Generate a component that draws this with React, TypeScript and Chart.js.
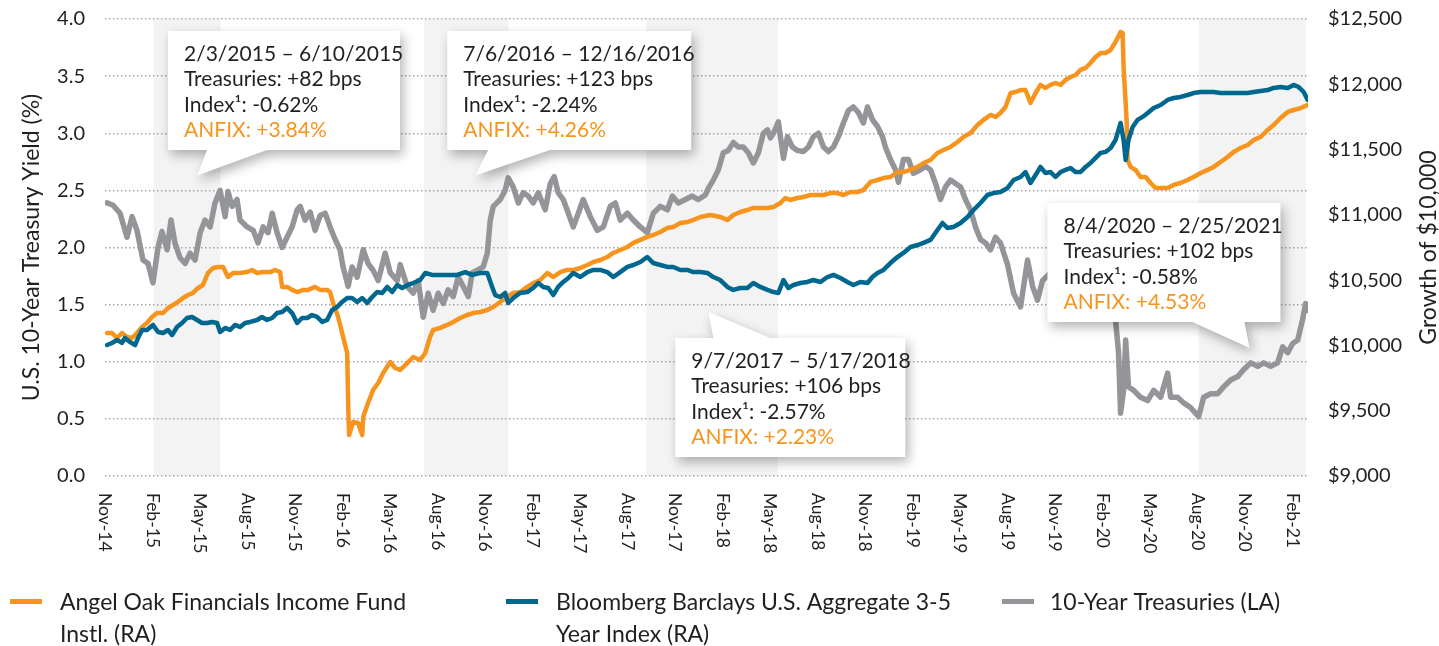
import React, { useEffect, useRef } from 'react';
import { Chart, registerables } from 'chart.js';

Chart.register(...registerables);

// ---------- DATA ----------
// x values are months since 1 Nov 2014
const xTickLabels = [
  'Nov-14', 'Feb-15', 'May-15', 'Aug-15', 'Nov-15', 'Feb-16', 'May-16', 'Aug-16', 'Nov-16',
  'Feb-17', 'May-17', 'Aug-17', 'Nov-17', 'Feb-18', 'May-18', 'Aug-18', 'Nov-18',
  'Feb-19', 'May-19', 'Aug-19', 'Nov-19', 'Feb-20', 'May-20', 'Aug-20', 'Nov-20', 'Feb-21',
];

const treasuryMonths = [
  0.13, 0.51, 0.95, 1.39, 1.71, 2.02, 2.4, 2.72, 3.03, 3.35, 3.6, 3.92, 4.17, 4.42, 4.74, 5.06, 5.37, 5.69,
  6.01, 6.32, 6.64, 6.95, 7.27, 7.59, 7.77, 8.03, 8.34, 8.53, 8.98, 9.36, 9.67, 9.99, 10.3, 10.56, 10.87,
  11.19, 11.5, 11.82, 12.14, 12.33, 12.64, 12.96, 13.27, 13.59, 13.91, 14.22, 14.54, 14.85, 15.04, 15.36,
  15.61, 15.93, 16.31, 16.62, 16.94, 17.26, 17.7, 18.02, 18.46, 18.65, 19.09, 19.47, 19.79, 20.1, 20.42,
  20.73, 21.05, 21.37, 21.68, 22.0, 22.31, 22.63, 22.95, 23.2, 23.51, 23.89, 24.15, 24.34, 24.53, 24.97,
  25.28, 25.47, 25.79, 26.11, 26.42, 26.74, 27.05, 27.37, 27.81, 28.13, 28.38, 28.63, 28.95, 29.27, 29.58,
  29.9, 30.21, 30.66, 31.1, 31.48, 31.92, 32.24, 32.55, 33.0, 33.38, 33.82, 34.26, 34.64, 35.08, 35.53,
  35.84, 36.22, 36.66, 37.1, 37.48, 37.93, 38.12, 38.43, 38.75, 39.06, 39.38, 39.7, 40.01, 40.33, 40.64,
  40.96, 41.28, 41.59, 41.85, 42.04, 42.23, 42.54, 42.86, 43.11, 43.43, 43.74, 44.12, 44.44, 44.75, 45.07,
  45.39, 45.7, 46.02, 46.33, 46.65, 46.97, 47.28, 47.6, 47.91, 48.17, 48.48, 48.8, 49.12, 49.3, 49.62,
  49.94, 50.13, 50.44, 50.76, 51.07, 51.52, 51.83, 52.15, 52.47, 52.78, 53.1, 53.41, 53.73, 54.05, 54.36,
  54.68, 54.99, 55.31, 55.63, 55.94, 56.26, 56.57, 57.02, 57.4, 57.84, 58.28, 58.6, 58.91, 59.23, 59.73,
  60.37, 61.0, 61.63, 62.26, 62.9, 63.4, 63.84, 64.03, 64.16, 64.35, 64.48, 64.66, 64.98, 65.42, 65.87,
  66.25, 66.69, 67.13, 67.32, 67.76, 68.14, 68.58, 69.09, 69.41, 69.85, 70.29, 70.67, 71.11, 71.56, 71.93,
  72.38, 72.82, 73.2, 73.64, 74.08, 74.4, 74.72, 75.03, 75.35, 75.66, 75.85, 75.98,
];
const treasuryYield = [
  2.39, 2.37, 2.3, 2.09, 2.27, 2.15, 1.89, 1.86, 1.69, 2.0, 2.14, 1.98, 2.24, 2.04, 1.91, 1.86, 1.95, 1.89,
  2.13, 2.24, 2.18, 2.39, 2.5, 2.27, 2.49, 2.36, 2.42, 2.24, 2.18, 2.15, 2.04, 2.18, 2.13, 2.3, 2.13,
  2.0, 2.09, 2.18, 2.33, 2.36, 2.24, 2.31, 2.15, 2.28, 2.3, 2.18, 2.07, 1.98, 1.83, 1.66,
  1.83, 1.74, 1.98, 1.86, 1.8, 1.71, 1.95, 1.78, 1.71, 1.85, 1.66, 1.6, 1.71, 1.39, 1.6,
  1.45, 1.6, 1.51, 1.63, 1.57, 1.74, 1.66, 1.57, 1.78, 1.8, 1.83, 1.95, 2.24, 2.36, 2.42,
  2.5, 2.61, 2.53, 2.39, 2.48, 2.45, 2.39, 2.48, 2.33, 2.56, 2.62, 2.48, 2.42, 2.3, 2.18,
  2.3, 2.42, 2.27, 2.15, 2.18, 2.36, 2.39, 2.24, 2.3, 2.24, 2.18, 2.13, 2.3, 2.36, 2.33,
  2.45, 2.39, 2.42, 2.45, 2.42, 2.46, 2.52, 2.59, 2.68, 2.83, 2.85, 2.92, 2.88, 2.88, 2.83,
  2.74, 2.83, 3.0, 3.03, 2.96, 3.0, 3.1, 2.78, 2.97, 2.88, 2.85, 2.84, 2.88, 2.97, 3.0,
  2.88, 2.84, 2.88, 2.97, 3.09, 3.2, 3.23, 3.18, 3.09, 3.23, 3.12, 3.06, 2.97, 2.88, 2.77,
  2.68, 2.57, 2.77, 2.77, 2.65, 2.68, 2.71, 2.68, 2.56, 2.42, 2.53, 2.59, 2.56, 2.53, 2.42,
  2.33, 2.18, 2.07, 2.04, 1.98, 2.09, 2.04, 1.85, 1.6, 1.48, 1.89, 1.66, 1.54, 1.71, 1.78,
  1.85, 1.75, 1.85, 1.92, 1.8, 1.6, 1.37, 1.08, 0.55, 0.75, 1.19, 0.78, 0.75, 0.69, 0.66,
  0.75, 0.69, 0.9, 0.69, 0.69, 0.64, 0.6, 0.52, 0.69, 0.72, 0.72, 0.78, 0.84, 0.87, 0.93,
  0.99, 0.96, 0.99, 0.96, 0.99, 1.13, 1.08, 1.16, 1.19, 1.37, 1.51, 1.45,
];

const fundMonths = [
  0.13, 0.44, 0.76, 1.07, 1.39, 1.71, 2.02, 2.34, 2.65, 2.97, 3.29, 3.67, 3.98, 4.3, 4.61, 4.93, 5.25, 5.56,
  5.88, 6.19, 6.51, 6.83, 7.14, 7.46, 7.77, 8.09, 8.53, 8.98, 9.29, 9.61, 9.99, 10.43, 10.75, 11.06, 11.19,
  11.5, 11.82, 12.14, 12.52, 12.83, 13.27, 13.59, 14.03, 14.22, 14.41, 14.73, 14.98, 15.3, 15.36, 15.42,
  15.68, 15.99, 16.25, 16.31, 16.62, 16.94, 17.26, 17.57, 18.02, 18.33, 18.65, 19.09, 19.47, 19.91, 20.23,
  20.54, 20.73, 21.18, 21.62, 22.0, 22.44, 22.88, 23.26, 23.7, 24.15, 24.53, 24.97, 25.41, 25.79, 26.23,
  26.68, 27.05, 27.5, 27.94, 28.32, 28.76, 29.2, 29.58, 30.03, 30.47, 30.85, 31.29, 31.73, 32.11, 32.55,
  33.0, 33.38, 33.82, 34.26, 34.64, 35.08, 35.53, 35.9, 36.35, 36.79, 37.17, 37.61, 38.24, 38.87, 39.32,
  39.7, 40.14, 40.58, 40.96, 41.4, 41.85, 42.23, 42.67, 42.98, 43.3, 43.74, 44.12, 44.56, 45.01, 45.39,
  45.83, 46.27, 46.65, 47.09, 47.53, 47.91, 48.36, 48.8, 49.18, 49.62, 50.06, 50.44, 50.89, 51.33, 51.71,
  52.15, 52.59, 52.97, 53.41, 53.86, 54.24, 54.68, 55.12, 55.5, 55.94, 56.26, 56.57, 56.89, 57.21, 57.52,
  57.84, 58.15, 58.47, 58.79, 59.1, 59.42, 59.73, 60.05, 60.37, 60.68, 61.0, 61.31, 61.63, 61.95, 62.26,
  62.58, 62.9, 63.21, 63.53, 63.84, 64.16, 64.29, 64.35, 64.54, 64.6, 64.79, 65.11, 65.42, 65.74, 66.06,
  66.37, 66.69, 67.13, 67.51, 67.95, 68.39, 68.77, 69.22, 69.66, 70.04, 70.48, 70.92, 71.3, 71.74, 72.19,
  72.57, 73.01, 73.45, 73.83, 74.27, 74.72, 75.09, 75.54, 75.98,
];
const fundGrowth = [
  10095, 10095, 10057, 10095, 10065, 10057, 10095, 10141, 10172, 10218, 10248, 10248, 10287, 10310, 10333, 10363, 10386, 10402,
  10440, 10463, 10555, 10593, 10601, 10601, 10524, 10555, 10555, 10562, 10578, 10555, 10562, 10562, 10578, 10562, 10448,
  10448, 10425, 10409, 10425, 10425, 10448, 10425, 10425, 10409, 10325, 10218, 10095, 9942, 9559, 9314,
  9414, 9406, 9314, 9452, 9559, 9659, 9712, 9789, 9873, 9827, 9812, 9865, 9911, 9888, 9942,
  10065, 10118, 10134, 10157, 10180, 10210, 10233, 10248, 10256, 10271, 10294, 10333, 10371, 10402, 10409,
  10448, 10478, 10501, 10555, 10524, 10562, 10578, 10578, 10593, 10616, 10639, 10654, 10677, 10708, 10731,
  10754, 10785, 10808, 10831, 10846, 10869, 10899, 10907, 10938, 10945, 10961, 10984, 10999, 10984, 10961,
  10999, 11022, 11037, 11053, 11053, 11053, 11060, 11091, 11129, 11114, 11129, 11137, 11152, 11152, 11152,
  11167, 11167, 11152, 11175, 11175, 11190, 11252, 11267, 11282, 11290, 11328, 11328, 11344, 11367, 11397,
  11420, 11474, 11497, 11520, 11558, 11597, 11627, 11688, 11727, 11765, 11750, 11780, 11826, 11933, 11941,
  11956, 11956, 11857, 11933, 11995, 11972, 11995, 12010, 11995, 12033, 12056, 12071, 12110, 12125, 12163,
  12209, 12240, 12240, 12263, 12324, 12400, 12393, 12133, 11727, 11420, 11367, 11344, 11290, 11290, 11244,
  11206, 11206, 11206, 11229, 11244, 11267, 11290, 11321, 11344, 11367, 11405, 11443, 11482, 11512, 11535,
  11573, 11597, 11650, 11688, 11742, 11788, 11803, 11818, 11841,
];

const indexMonths = [
  0.13, 0.44, 0.76, 1.07, 1.26, 1.58, 1.9, 2.09, 2.34, 2.65, 3.03, 3.35, 3.67, 3.98, 4.24, 4.55, 4.87, 5.18,
  5.5, 5.82, 6.13, 6.45, 6.76, 7.08, 7.27, 7.59, 7.9, 8.22, 8.53, 8.85, 9.17, 9.61, 9.92, 10.24, 10.56,
  10.87, 11.19, 11.5, 11.82, 12.14, 12.45, 12.77, 13.08, 13.4, 13.72, 14.03, 14.35, 14.66, 14.98, 15.3,
  15.61, 15.93, 16.25, 16.56, 16.88, 17.19, 17.51, 17.83, 18.14, 18.46, 18.77, 19.15, 19.47, 19.91, 20.23,
  20.67, 21.18, 21.68, 22.25, 22.76, 23.2, 23.7, 24.15, 24.46, 24.65, 24.97, 25.28, 25.47, 25.79, 26.23,
  26.68, 27.05, 27.37, 27.69, 28.0, 28.32, 28.63, 28.95, 29.27, 29.58, 30.03, 30.47, 30.85, 31.29, 31.73,
  32.11, 32.55, 33.0, 33.38, 33.82, 34.26, 34.64, 35.08, 35.53, 35.9, 36.35, 36.79, 37.17, 37.61, 38.05,
  38.43, 38.87, 39.32, 39.7, 40.14, 40.58, 40.96, 41.4, 41.85, 42.23, 42.54, 42.86, 43.17, 43.49, 43.93,
  44.37, 44.75, 45.2, 45.64, 46.02, 46.46, 46.9, 47.28, 47.72, 48.17, 48.48, 48.8, 49.18, 49.62, 50.06,
  50.44, 50.89, 51.33, 51.71, 52.15, 52.59, 52.91, 53.22, 53.6, 54.05, 54.49, 54.87, 55.31, 55.75, 56.13,
  56.57, 57.02, 57.4, 57.84, 58.15, 58.47, 58.79, 59.1, 59.42, 59.73, 60.05, 60.37, 60.68, 61.0, 61.31,
  61.63, 61.95, 62.26, 62.58, 62.9, 63.21, 63.53, 63.84, 64.16, 64.35, 64.48, 64.66, 64.92, 65.23, 65.55,
  65.87, 66.25, 66.69, 67.13, 67.51, 67.95, 68.39, 68.77, 69.22, 69.66, 70.04, 70.48, 70.92, 71.3, 71.74,
  72.19, 72.57, 73.01, 73.45, 73.83, 74.27, 74.72, 75.09, 75.41, 75.73, 75.98,
];
const indexGrowth = [
  10003, 10019, 10042, 10019, 10057, 10026, 10003, 10057, 10118, 10118, 10157, 10103, 10095, 10118, 10080, 10141, 10172, 10210,
  10218, 10195, 10172, 10172, 10180, 10172, 10103, 10134, 10118, 10157, 10141, 10172, 10180, 10195, 10218, 10195, 10210,
  10248, 10256, 10287, 10248, 10172, 10210, 10210, 10233, 10218, 10180, 10195, 10271, 10294, 10333, 10363,
  10363, 10333, 10363, 10325, 10371, 10409, 10402, 10448, 10409, 10463, 10440, 10465, 10478, 10501, 10555,
  10540, 10540, 10540, 10540, 10562, 10540, 10555, 10555, 10448, 10386, 10371, 10402, 10325, 10363, 10402,
  10409, 10440, 10478, 10448, 10440, 10386, 10448, 10486, 10516, 10555, 10524, 10562, 10578, 10578, 10562,
  10524, 10562, 10601, 10616, 10639, 10677, 10631, 10616, 10601, 10601, 10578, 10578, 10562, 10562, 10555,
  10524, 10501, 10448, 10425, 10440, 10440, 10478, 10448, 10425, 10409, 10402, 10501, 10440, 10463, 10478,
  10486, 10501, 10486, 10524, 10540, 10516, 10486, 10463, 10486, 10478, 10524, 10555, 10578, 10631, 10677,
  10708, 10754, 10769, 10785, 10808, 10884, 10938, 10899, 10907, 10938, 10984, 11037, 11091, 11152, 11167,
  11175, 11206, 11267, 11290, 11328, 11244, 11305, 11367, 11321, 11328, 11290, 11328, 11344, 11359, 11328,
  11328, 11367, 11397, 11436, 11474, 11482, 11512, 11573, 11704, 11573, 11420, 11573, 11673, 11727, 11750,
  11780, 11818, 11841, 11880, 11895, 11903, 11918, 11933, 11941, 11941, 11941, 11933, 11933, 11933, 11933,
  11933, 11941, 11949, 11956, 11972, 11979, 11972, 11995, 11979, 11941, 11880,
];

// rising-rate periods and their callout figures
const periodStarts = ['2/3/2015', '7/6/2016', '9/7/2017', '8/4/2020'];
const periodEnds = ['6/10/2015', '12/16/2016', '5/17/2018', '2/25/2021'];
const periodTreasuries = ['+82 bps', '+123 bps', '+106 bps', '+102 bps'];
const periodIndex = ['-0.62%', '-2.24%', '-2.57%', '-0.58%'];
const periodAnfix = ['+3.84%', '+4.26%', '+2.23%', '+4.53%'];

const seriesLabels = [
  ['Angel Oak Financials Income Fund', 'Instl. (RA)'],
  ['Bloomberg Barclays U.S. Aggregate 3-5', 'Year Index (RA)'],
  ['10-Year Treasuries (LA)'],
];

// ---------- STYLE / LAYOUT ----------
const FONT = 'Lato, "Open Sans", "DejaVu Sans", sans-serif';
const TEXT = '#231f20';
const ORANGE = '#f7941d';
const BLUE = '#00678f';
const GRAY = '#939598';
const BAND = '#f3f3f3';

// callout boxes positioned in scale units (x: months, y: left axis)
const calloutLayout = [
  { left: 3.98, top: 3.895, w: 232, h: 119, side: 'bottom', baseFrom: 39, baseTo: 99, tipX: 5.82, tipY: 2.63 },
  { left: 21.62, top: 3.895, w: 244, h: 119, side: 'bottom', baseFrom: 41, baseTo: 103, tipX: 23.39, tipY: 2.63 },
  { left: 36.03, top: 1.208, w: 230, h: 119, side: 'top', baseFrom: 38, baseTo: 95, tipX: 38.12, tipY: 1.435 },
  { left: 59.54, top: 2.39, w: 233, h: 119, side: 'bottom', baseFrom: 145, baseTo: 197, tipX: 72.31, tipY: 1.12 },
];

const legendSwatchX = [10, 506, 1002];
const legendTextX = [60, 556, 1050];
const legendColors = [ORANGE, BLUE, GRAY];

function monthsFromDate(s: string): number {
  const [m, d, y] = s.split('/').map(Number);
  const dim = new Date(y, m, 0).getDate();
  return (y - 2014) * 12 + (m - 11) + (d - 1) / dim;
}

const overlayPlugin = {
  id: 'overlay',
  beforeDraw(chart: any) {
    const { ctx, chartArea } = chart;
    const xs = chart.scales.x;
    ctx.save();
    ctx.fillStyle = BAND;
    periodStarts.forEach((s, i) => {
      const x0 = xs.getPixelForValue(monthsFromDate(s));
      const x1 = xs.getPixelForValue(monthsFromDate(periodEnds[i]));
      ctx.fillRect(x0, chartArea.top, x1 - x0, chartArea.bottom - chartArea.top);
    });
    ctx.restore();
  },
  afterDraw(chart: any) {
    const { ctx, chartArea } = chart;
    const xs = chart.scales.x;
    const ys = chart.scales.y;

    // callouts
    calloutLayout.forEach((L, i) => {
      const x0 = xs.getPixelForValue(L.left);
      const y0 = ys.getPixelForValue(L.top);
      const tx = xs.getPixelForValue(L.tipX);
      const ty = ys.getPixelForValue(L.tipY);
      const { w, h } = L;
      ctx.save();
      ctx.beginPath();
      if (L.side === 'bottom') {
        ctx.moveTo(x0, y0);
        ctx.lineTo(x0 + w, y0);
        ctx.lineTo(x0 + w, y0 + h);
        ctx.lineTo(x0 + L.baseTo, y0 + h);
        ctx.lineTo(tx, ty);
        ctx.lineTo(x0 + L.baseFrom, y0 + h);
        ctx.lineTo(x0, y0 + h);
      } else {
        ctx.moveTo(x0, y0);
        ctx.lineTo(x0 + L.baseFrom, y0);
        ctx.lineTo(tx, ty);
        ctx.lineTo(x0 + L.baseTo, y0);
        ctx.lineTo(x0 + w, y0);
        ctx.lineTo(x0 + w, y0 + h);
        ctx.lineTo(x0, y0 + h);
      }
      ctx.closePath();
      ctx.shadowColor = 'rgba(0,0,0,0.30)';
      ctx.shadowBlur = 12;
      ctx.shadowOffsetX = 3;
      ctx.shadowOffsetY = 5;
      ctx.fillStyle = '#ffffff';
      ctx.fill();
      ctx.restore();

      const lines = [
        `${periodStarts[i]} \u2013 ${periodEnds[i]}`,
        `Treasuries: ${periodTreasuries[i]}`,
        `Index\u00b9: ${periodIndex[i]}`,
        `ANFIX: ${periodAnfix[i]}`,
      ];
      ctx.save();
      ctx.font = `21px ${FONT}`;
      ctx.textAlign = 'left';
      ctx.textBaseline = 'alphabetic';
      lines.forEach((t, k) => {
        ctx.fillStyle = k === 3 ? ORANGE : TEXT;
        ctx.fillText(t, x0 + 16, y0 + 30 + k * 25.3);
      });
      ctx.restore();
    });

    // x tick labels (rotated, reading downward)
    ctx.save();
    ctx.font = `17.5px ${FONT}`;
    ctx.fillStyle = TEXT;
    ctx.textAlign = 'left';
    ctx.textBaseline = 'middle';
    xTickLabels.forEach((lab, i) => {
      const x = xs.getPixelForValue(i * 3);
      ctx.save();
      ctx.translate(x, chartArea.bottom + 17);
      ctx.rotate(Math.PI / 2);
      ctx.fillText(lab, 0, 0);
      ctx.restore();
    });
    ctx.restore();

    // axis titles
    const midY = (chartArea.top + chartArea.bottom) / 2;
    ctx.save();
    ctx.font = `23px ${FONT}`;
    ctx.fillStyle = TEXT;
    ctx.textAlign = 'center';
    ctx.textBaseline = 'middle';
    ctx.translate(32, midY);
    ctx.rotate(-Math.PI / 2);
    ctx.fillText('U.S. 10-Year Treasury Yield (%)', 0, 0);
    ctx.restore();
    ctx.save();
    ctx.font = `23px ${FONT}`;
    ctx.fillStyle = TEXT;
    ctx.textAlign = 'center';
    ctx.textBaseline = 'middle';
    ctx.translate(1429, midY);
    ctx.rotate(-Math.PI / 2);
    ctx.fillText('Growth of $10,000', 0, 0);
    ctx.restore();

    // legend
    ctx.save();
    ctx.font = `23px ${FONT}`;
    ctx.textAlign = 'left';
    ctx.textBaseline = 'alphabetic';
    seriesLabels.forEach((lines, i) => {
      ctx.fillStyle = legendColors[i];
      ctx.fillRect(legendSwatchX[i], 599, 32, 5);
      ctx.fillStyle = TEXT;
      lines.forEach((t, k) => ctx.fillText(t, legendTextX[i], 610 + k * 32));
    });
    ctx.restore();
  },
};

function toPoints(xsArr: number[], ysArr: number[]) {
  return xsArr.map((x, i) => ({ x, y: ysArr[i] }));
}

// fix vertical axis box: set width and the top reserve above the plot
const fitVertical = (width: number) => (s: any) => {
  s.width = width;
  s.paddingTop = 19;
  s.paddingBottom = 0;
};

export default function App() {
  const canvasRef = useRef<HTMLCanvasElement>(null);

  useEffect(() => {
    document.body.style.margin = '0';
    const canvas = canvasRef.current;
    if (!canvas) return;
    const tickFont = { family: FONT, size: 20 };
    const chart = new Chart(canvas, {
      type: 'line',
      data: {
        datasets: [
          {
            label: seriesLabels[2].join(' '),
            data: toPoints(treasuryMonths, treasuryYield),
            yAxisID: 'y',
            borderColor: GRAY,
            borderWidth: 5.5,
            pointRadius: 0,
            borderJoinStyle: 'round',
            borderCapStyle: 'round',
            tension: 0,
            order: 3,
          },
          {
            label: seriesLabels[0].join(' '),
            data: toPoints(fundMonths, fundGrowth),
            yAxisID: 'y2',
            borderColor: ORANGE,
            borderWidth: 4.5,
            pointRadius: 0,
            borderJoinStyle: 'round',
            borderCapStyle: 'round',
            tension: 0,
            order: 2,
          },
          {
            label: seriesLabels[1].join(' '),
            data: toPoints(indexMonths, indexGrowth),
            yAxisID: 'y2',
            borderColor: BLUE,
            borderWidth: 4.5,
            pointRadius: 0,
            borderJoinStyle: 'round',
            borderCapStyle: 'round',
            tension: 0,
            order: 1,
          },
        ],
      },
      options: {
        responsive: false,
        animation: false,
        events: [],
        layout: { padding: 0 },
        plugins: { legend: { display: false }, tooltip: { enabled: false } },
        scales: {
          x: {
            type: 'linear',
            min: 0,
            max: 76,
            grid: { display: false },
            border: { display: false },
            ticks: { display: false },
            afterFit: (s: any) => {
              s.height = 170;
              s.paddingLeft = 0;
              s.paddingRight = 0;
            },
          },
          y: {
            position: 'left',
            min: 0,
            max: 4,
            ticks: {
              stepSize: 0.5,
              padding: 20,
              color: TEXT,
              font: tickFont,
              callback: (v: any) => Number(v).toFixed(1),
            },
            grid: { color: '#9d9fa2', lineWidth: 1.4, drawTicks: false },
            border: { display: false, dash: [1.4, 2.6] },
            afterFit: fitVertical(105),
          },
          y2: {
            position: 'right',
            min: 9000,
            max: 12500,
            ticks: {
              stepSize: 500,
              padding: 20,
              color: TEXT,
              font: tickFont,
              callback: (v: any) => '$' + Number(v).toLocaleString('en-US'),
            },
            grid: { display: false, drawTicks: false },
            border: { display: false },
            afterFit: fitVertical(131),
          },
        },
      } as any,
      plugins: [overlayPlugin],
    });
    return () => chart.destroy();
  }, []);

  return (
    <div style={{ width: 1439, height: 646, background: '#fff' }}>
      <canvas ref={canvasRef} width={1439} height={646} style={{ display: 'block', width: 1439, height: 646 }} />
    </div>
  );
}
